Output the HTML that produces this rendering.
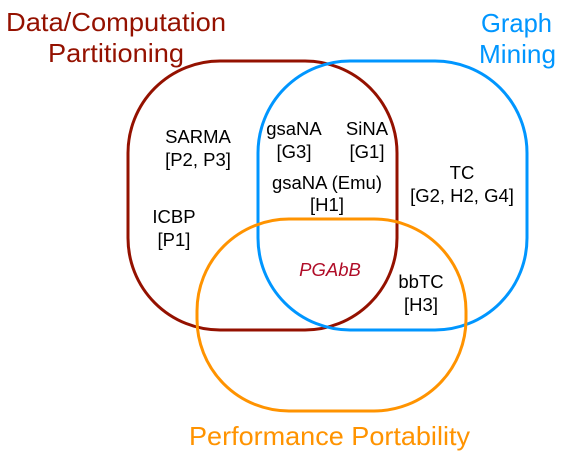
<!DOCTYPE html>
<html><head><style>
html,body{margin:0;padding:0;background:#fff;}
svg{display:block;font-family:"Liberation Sans",Arial,sans-serif;}
</style></head><body>
<svg width="564" height="458" viewBox="0 0 564 458">
<rect x="128" y="61" width="269" height="269" rx="92" fill="none" stroke="#941100" stroke-width="3"/>
<rect x="258" y="61" width="269" height="269" rx="92" fill="none" stroke="#0096FF" stroke-width="3"/>
<rect x="197" y="219" width="269" height="192" rx="92" fill="none" stroke="#FF9300" stroke-width="3"/>
<g font-size="26" fill="#941100">
<text x="6" y="31" textLength="220" lengthAdjust="spacingAndGlyphs">Data/Computation</text>
<text x="48" y="62" textLength="136" lengthAdjust="spacingAndGlyphs">Partitioning</text>
</g>
<g font-size="26" fill="#0096FF">
<text x="481" y="32" textLength="71" lengthAdjust="spacingAndGlyphs">Graph</text>
<text x="479" y="63" textLength="77" lengthAdjust="spacingAndGlyphs">Mining</text>
</g>
<text x="189" y="445" font-size="26" fill="#FF9300" textLength="281" lengthAdjust="spacingAndGlyphs">Performance Portability</text>
<g font-size="18.5" fill="#000" text-anchor="middle">
<text x="198" y="143">SARMA</text><text x="198" y="166">[P2, P3]</text>
<text x="174" y="223">ICBP</text><text x="174" y="246">[P1]</text>
<text x="294" y="135">gsaNA</text><text x="294" y="158">[G3]</text>
<text x="367" y="135">SiNA</text><text x="367" y="158">[G1]</text>
<text x="327" y="189">gsaNA (Emu)</text><text x="327" y="211">[H1]</text>
<text x="462" y="179">TC</text><text x="462" y="202">[G2, H2, G4]</text>
<text x="421" y="288">bbTC</text><text x="421" y="311">[H3]</text>
<text x="330" y="276" font-style="italic" fill="#B00D28">PGAbB</text>
</g>
</svg>
</body></html>
